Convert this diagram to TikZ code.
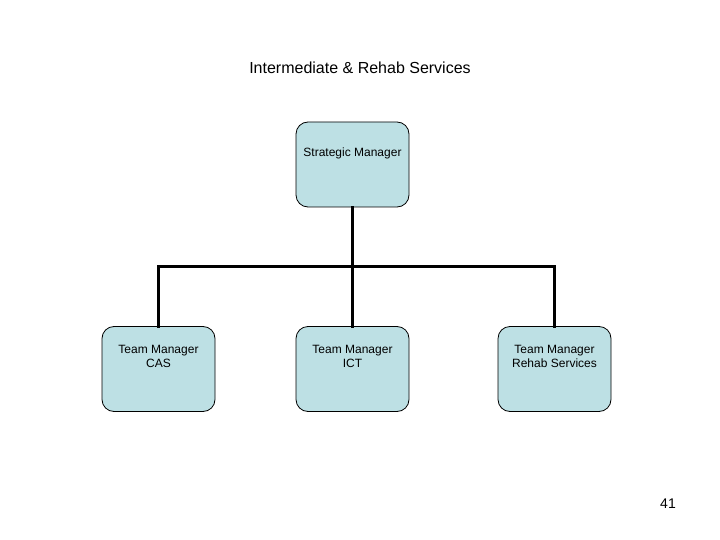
\documentclass[tikz,border=0pt]{standalone}
\usepackage{fontspec}
\setmainfont{Liberation Sans}
\definecolor{boxfill}{RGB}{189,224,228}
\begin{document}
\begin{tikzpicture}[x=1pt,y=-1pt,
  orgbox/.style={draw=black, fill=boxfill, rounded corners=12pt, minimum width=113pt, minimum height=85pt, inner sep=0pt, line width=0.8pt},
  lbl/.style={font=\fontsize{12}{14}\selectfont, align=center},
  link/.style={line width=3pt, line cap=rect}]
\useasboundingbox (0,0) rectangle (720,540);
\node[font=\fontsize{16}{18}\selectfont] (title) at (360,68) {Intermediate \& Rehab Services};
\node[orgbox] (sm) at (352.5,164.5) {};
\node[lbl] (smt) at (352.5,153) {Strategic Manager};
\node[orgbox] (cas) at (158.5,369) {};
\node[lbl] (cast) at (158.5,356) {Team Manager\\CAS};
\node[orgbox] (ict) at (352.5,369) {};
\node[lbl] (ictt) at (352.5,356) {Team Manager\\ICT};
\node[orgbox] (reh) at (554.5,369) {};
\node[lbl] (reht) at (554.5,356) {Team Manager\\Rehab Services};
\node[font=\fontsize{14}{16}\selectfont] (pg) at (668,504) {41};
\coordinate (bus) at (352.5,266);
\draw[link] (sm.south) -- (bus);
\draw[link] (cas.north) |- (bus) -| (reh.north);
\draw[link] (bus) -- (ict.north);
\end{tikzpicture}
\end{document}
